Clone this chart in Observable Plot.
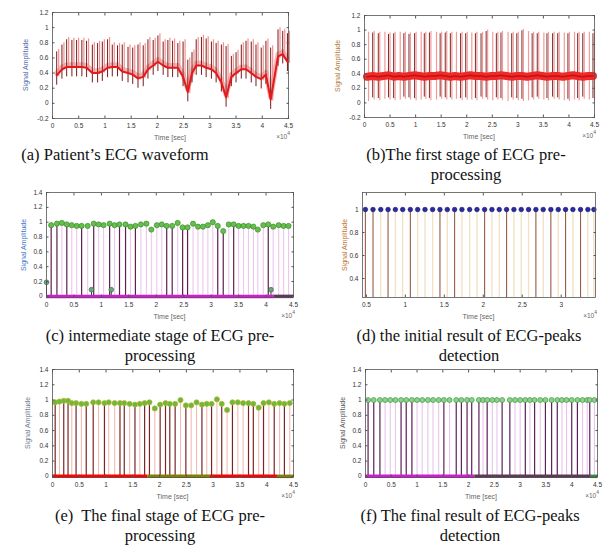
<!DOCTYPE html>
<html><head><meta charset="utf-8">
<script src="https://cdn.jsdelivr.net/npm/d3@7"></script>
<script src="https://cdn.jsdelivr.net/npm/@observablehq/plot@0.6"></script>
<style>
body{margin:0;background:#fff;}
#fig{position:relative;width:608px;height:548px;overflow:hidden;background:#fff;font-family:"Liberation Sans",Arial,sans-serif;}
.panel{position:absolute;}
.panel svg{overflow:visible;}
.cap{position:absolute;width:320px;font-family:"Liberation Serif","Times New Roman",serif;font-size:16.5px;line-height:20px;text-align:center;color:#111;white-space:nowrap;}
.xl{position:absolute;font-size:7px;color:#666;white-space:nowrap;transform:translate(-50%,-50%);}
.xe{position:absolute;font-size:6.5px;color:#666;white-space:nowrap;transform:translate(-100%,-50%);}
.yl{position:absolute;font-size:7px;white-space:nowrap;transform:translate(-50%,-50%) rotate(-90deg);}
</style></head><body><div id="fig"></div><script>
// ---------- shared ticks ----------
const xTicksFull = [0, 0.5, 1, 1.5, 2, 2.5, 3, 3.5, 4, 4.5];
const yTicksAB = [-0.2, 0, 0.2, 0.4, 0.6, 0.8, 1, 1.2];
const yTicksStem = [0, 0.2, 0.4, 0.6, 0.8, 1, 1.2, 1.4];
const xTicksD = [0.5, 1, 1.5, 2, 2.5, 3];
const yTicksD = [0.4, 0.6, 0.8, 1];

// ---------- (a) raw ECG: per-beat spike times, R-peak, baseline ----------
const aTime = [0.08,0.18,0.27,0.37,0.46,0.56,0.65,0.76,0.86,0.95,1.05,1.14,1.24,1.33,1.44,1.53,1.63,1.73,1.82,1.92,2.01,2.11,2.20,2.29,2.39,2.49,2.58,2.66,2.74,2.84,2.93,3.03,3.12,3.22,3.31,3.41,3.50,3.60,3.69,3.79,3.88,3.98,4.07,4.16,4.30,4.39,4.48];
const aPeak = [0.71,0.80,0.87,0.86,0.86,0.86,0.85,0.80,0.82,0.84,0.87,0.80,0.79,0.80,0.77,0.76,0.80,0.79,0.87,0.86,0.92,0.84,0.86,0.85,0.82,0.84,0.60,0.70,0.87,0.90,0.88,0.84,0.82,0.80,0.78,0.65,0.70,0.80,0.85,0.84,0.80,0.76,0.85,0.76,1.00,0.98,0.95];
const aBase = [0.37,0.45,0.48,0.48,0.48,0.48,0.47,0.40,0.40,0.42,0.47,0.48,0.48,0.42,0.40,0.38,0.33,0.35,0.45,0.50,0.55,0.50,0.47,0.47,0.47,0.35,0.15,0.40,0.50,0.50,0.47,0.45,0.40,0.28,0.08,0.35,0.40,0.45,0.45,0.40,0.35,0.32,0.38,0.05,0.62,0.65,0.55];

// ---------- (b) first stage ----------
const bTime = [0.05,0.16,0.27,0.37,0.47,0.57,0.67,0.77,0.87,0.98,1.08,1.17,1.27,1.38,1.48,1.58,1.68,1.77,1.88,1.98,2.07,2.17,2.28,2.38,2.48,2.58,2.67,2.78,2.88,2.98,3.08,3.18,3.28,3.38,3.48,3.57,3.68,3.78,3.88,3.98,4.08,4.17,4.27,4.37,4.47];
const bPeak = [0.97,0.98,0.97,0.97,0.96,0.97,0.97,0.97,0.96,0.97,0.97,0.97,0.98,0.97,0.97,0.98,0.97,0.97,0.97,0.97,0.96,0.97,0.97,1.00,0.97,0.97,0.98,0.97,0.97,0.97,1.01,0.98,0.97,0.97,0.96,0.97,0.97,0.97,0.96,0.97,0.97,0.97,0.97,0.97,0.97];
const bTrough = [0.02,0.04,0.03,0.05,0.04,0.03,0.04,0.05,0.04,0.03,0.04,0.05,0.03,0.04,0.05,0.04,0.04,0.05,0.03,0.04,0.04,0.03,0.05,0.04,0.03,0.04,0.03,0.02,0.04,0.03,0.02,0.03,0.04,0.05,0.04,0.03,0.05,0.04,0.03,0.02,0.04,0.03,0.05,0.04,0.03];
const bBase = [0.36,0.37,0.36,0.37,0.38,0.36,0.37,0.36,0.37,0.38,0.37,0.36,0.37,0.37,0.38,0.37,0.36,0.37,0.36,0.37,0.38,0.37,0.37,0.36,0.37,0.37,0.38,0.37,0.36,0.37,0.37,0.36,0.37,0.38,0.37,0.36,0.37,0.37,0.36,0.37,0.38,0.37,0.36,0.37,0.37];
const bDark = [0,1,1,0,1,1,0,1,1,1,0,1,1,0,1,1,1,0,1,1,0,1,1,1,0,1,1,0,1,1,1,0,1,1,0,1,1,1,0,1,0,1,1,0,1];

// ---------- (c) intermediate stage ----------
const cTime = [0.085,0.19,0.28,0.37,0.46,0.55,0.64,0.75,0.86,0.95,1.04,1.15,1.24,1.33,1.44,1.53,1.62,1.72,1.82,1.91,2.01,2.10,2.19,2.29,2.39,2.48,2.57,2.67,2.76,2.85,2.94,3.03,3.12,3.22,3.32,3.41,3.50,3.59,3.68,3.77,3.85,3.95,4.04,4.13,4.23,4.32,4.41];
const cVal = [0.96,0.98,0.99,0.97,0.96,0.95,0.95,0.95,0.98,0.97,0.96,0.98,0.96,0.97,0.97,0.94,0.95,0.97,0.98,0.90,0.96,0.97,0.95,0.95,0.99,0.93,0.93,0.98,0.94,0.94,0.96,1.00,0.95,0.88,0.97,0.97,0.95,0.95,0.95,0.94,0.90,0.96,0.97,0.94,0.96,0.95,0.95];
const cDark = [1,1,0,1,0,0,1,0,1,0,0,1,0,1,1,0,1,0,0,0,0,0,1,1,0,1,1,0,0,0,0,0,1,1,0,1,0,0,0,0,0,0,1,0,0,0,0];
const cExtraTime = [0.0, 0.82, 1.18, 4.09];
const cExtraVal = [0.19, 0.09, 0.09, 0.09];
const cSegFrom = [0, 4.15];
const cSegTo = [4.15, 4.5];
const cSegKind = ["zero", "zero-late"];

// ---------- (d) initial peaks ----------
const dTime = [0.487,0.585,0.684,0.778,0.872,0.966,1.064,1.158,1.252,1.350,1.444,1.538,1.632,1.726,1.825,1.919,2.017,2.111,2.205,2.299,2.393,2.487,2.581,2.675,2.769,2.867,2.962,3.056,3.150,3.248,3.342,3.419];
const dDark = [1,1,0,1,0,0,1,0,0,0,1,0,1,0,0,0,1,0,0,1,0,0,0,1,0,1,0,1,0,1,0,0];
const dYMin = 0.235;

// ---------- (e) final stage ----------
const eTime = [0.05,0.13,0.21,0.29,0.36,0.44,0.54,0.63,0.76,0.86,0.97,1.05,1.16,1.26,1.34,1.44,1.54,1.63,1.72,1.81,1.91,2.01,2.11,2.19,2.29,2.39,2.49,2.59,2.69,2.79,2.88,2.97,3.07,3.16,3.26,3.36,3.46,3.56,3.66,3.75,3.85,3.94,4.04,4.14,4.24,4.33,4.43];
const eVal = [0.97,0.98,0.99,0.99,0.96,0.96,0.95,0.95,0.97,0.97,0.96,0.97,0.96,0.96,0.96,0.95,0.94,0.95,0.96,0.97,0.89,0.94,0.96,0.95,0.95,1.00,0.93,0.93,0.97,0.94,0.95,0.95,1.01,0.95,0.87,0.97,0.97,0.96,0.96,0.95,0.90,0.96,0.97,0.95,0.96,0.95,0.96];
const eDark = [1,0,1,1,0,1,0,1,1,0,1,0,0,1,1,0,1,0,1,1,0,1,1,1,1,0,1,0,0,1,0,1,0,1,0,1,0,0,1,1,0,1,0,1,0,1,0];
const eSegFrom = [0, 1.78, 2.95, 4.2];
const eSegTo = [1.78, 2.95, 4.2, 4.5];
const eSegKind = ["red", "olive", "red", "olive"];

// ---------- (f) final peaks ----------
const fTime = [0.05,0.16,0.28,0.38,0.48,0.58,0.69,0.79,0.90,1.00,1.10,1.21,1.31,1.42,1.52,1.63,1.76,1.86,1.97,2.06,2.20,2.28,2.36,2.46,2.55,2.65,2.80,2.90,3.00,3.10,3.19,3.28,3.39,3.49,3.61,3.72,3.81,3.90,4.00,4.11,4.21,4.30,4.35,4.44];
const fDark = [1,1,1,0,0,0,1,1,1,0,0,0,0,0,1,0,1,1,1,1,1,0,1,0,0,1,1,0,0,1,0,1,0,1,1,1,0,0,1,1,0,0,1,0];
const fVal = 1;
const fSegFrom = [0, 2.12, 4.38];
const fSegTo = [2.12, 4.38, 4.5];
const fSegKind = ["magenta", "dark", "green"];

// ---------- helpers ----------
const fig = document.getElementById("fig");
function addDiv(cls, html, left, top, color) {
  const d = document.createElement("div");
  d.className = cls; d.innerHTML = html;
  d.style.left = left + "px"; d.style.top = top + "px";
  if (color) d.style.color = color;
  fig.appendChild(d); return d;
}
function panel(cfg) {
  const {left, top, fx0, fx1, fy0, fy1, xDomain, yDomain, xTicks, yTicks, marks, color, yColor, yLabelX} = cfg;
  const W = 304, H = fy1 - top + 30;
  const svg = Plot.plot({
    width: W, height: H,
    marginLeft: fx0 - left, marginRight: left + W - fx1,
    marginTop: fy0 - top, marginBottom: H - (fy1 - top),
    x: {domain: xDomain, label: null},
    y: {domain: yDomain, label: null},
    ...(color ? {color} : {}),
    style: {background: "transparent", fontFamily: "'Liberation Sans', Arial, sans-serif"},
    marks: [
      ...marks,
      Plot.frame({stroke: "#555", strokeWidth: 0.8}),
      Plot.axisX(xTicks, {tickSize: 0, tickPadding: 5, fontSize: 6.5, fill: "#333", tickFormat: d => String(d)}),
      Plot.axisX(xTicks, {tickSize: -2.5, tickFormat: () => "", stroke: "#555"}),
      Plot.axisX(xTicks, {anchor: "top", tickSize: -2.5, tickFormat: () => "", stroke: "#555"}),
      Plot.axisY(yTicks, {tickSize: 0, tickPadding: 4, fontSize: 6.5, fill: "#333", tickFormat: d => String(d)}),
      Plot.axisY(yTicks, {tickSize: -2.5, tickFormat: () => "", stroke: "#555"}),
      Plot.axisY(yTicks, {anchor: "right", tickSize: -2.5, tickFormat: () => "", stroke: "#555"})
    ]
  });
  const wrap = document.createElement("div");
  wrap.className = "panel"; wrap.style.left = left + "px"; wrap.style.top = top + "px";
  wrap.appendChild(svg); fig.appendChild(wrap);
  addDiv("xl", "Time [sec]", (fx0 + fx1) / 2, fy1 + 19);
  addDiv("xe", "\u00d710<sup style='font-size:5px'>4</sup>", fx1 + 2, fy1 + 17);
  addDiv("yl", "Signal Amplitude", yLabelX, (fy0 + fy1) / 2, yColor);
}

// (a)
const aBeats = aTime.map((t, i) => ({t, peak: aPeak[i], base: aBase[i]}));
panel({left: 0, top: 0, fx0: 52, fx1: 288, fy0: 12, fy1: 118,
  xDomain: [0, 4.5], yDomain: [-0.2, 1.2], xTicks: xTicksFull, yTicks: yTicksAB,
  yColor: "#4a6aa8", yLabelX: 25,
  marks: [
    Plot.line(aBeats, {x: "t", y: d => d.base + 0.03, stroke: "#f7b7b7", strokeWidth: 5, curve: "linear"}),
    Plot.ruleX(aBeats, {x: "t", y1: d => d.base - 0.02, y2: "peak", stroke: "#f29090", strokeWidth: 1.2, dx: 2}),
    Plot.ruleX(aBeats, {x: "t", y1: d => d.base - 0.13, y2: d => d.peak - 0.03, stroke: "#7a1a1a", strokeWidth: 1}),
    Plot.line(aBeats, {x: "t", y: "base", stroke: "#e3191c", strokeWidth: 2, curve: "linear"})
  ]});

// (b)
const bBeats = bTime.map((t, i) => ({t, peak: bPeak[i], trough: bTrough[i], base: bBase[i], dark: bDark[i]}));
panel({left: 304, top: 0, fx0: 364, fx1: 594, fy0: 15, fy1: 117,
  xDomain: [0, 4.5], yDomain: [-0.2, 1.2], xTicks: xTicksFull, yTicks: yTicksAB,
  yColor: "#b07a3a", yLabelX: 337,
  marks: [
    Plot.ruleX(bBeats, {x: "t", y1: "trough", y2: "peak", stroke: "#f39a9a", strokeWidth: 1.2, dx: 1.5}),
    Plot.ruleX(bBeats.filter(d => d.dark), {x: "t", y1: d => d.trough + 0.03, y2: d => d.peak - 0.02, stroke: "#6b1515", strokeWidth: 0.9}),
    Plot.line(bBeats, {x: "t", y: "base", stroke: "#ee2a2a", strokeWidth: 8}),
    Plot.line(bBeats, {x: "t", y: "base", stroke: "#c41010", strokeWidth: 1.5})
  ]});

// (c)
const cBeats = cTime.map((t, i) => ({t, v: cVal[i], dark: cDark[i]}));
const cExtra = cExtraTime.map((t, i) => ({t, v: cExtraVal[i]}));
const cSeg = cSegFrom.map((f, i) => ({from: f, to: cSegTo[i], kind: cSegKind[i]}));
panel({left: 0, top: 180, fx0: 46, fx1: 293, fy0: 192, fy1: 297,
  xDomain: [0, 4.5], yDomain: [-0.015, 1.4], xTicks: xTicksFull, yTicks: yTicksStem,
  yColor: "#3f74c4", yLabelX: 23,
  color: {domain: ["zero", "zero-late"], range: ["#d21ad2", "#5a3a5a"]},
  marks: [
    Plot.ruleX(cBeats.filter(d => !d.dark), {x: "t", y1: 0, y2: "v", stroke: "#eec6ee", strokeWidth: 1.1}),
    Plot.ruleX(cBeats.filter(d => d.dark), {x: "t", y1: 0, y2: "v", stroke: "#5e1f4e", strokeWidth: 1.2}),
    Plot.ruleX(cExtra, {x: "t", y1: 0, y2: "v", stroke: "#3a3a3a", strokeWidth: 1}),
    Plot.ruleY(cSeg, {y: 0, x1: "from", x2: "to", stroke: "kind", strokeWidth: 3.5}),
    Plot.dot(cBeats, {x: "t", y: "v", r: 2.6, fill: "#63c04a", stroke: "#3b7f2e", strokeWidth: 0.6}),
    Plot.dot(cExtra, {x: "t", y: "v", r: 2.4, fill: "#6aa87a", stroke: "#2f5f3a", strokeWidth: 0.6})
  ]});

// (d)
const dBeats = dTime.map((t, i) => ({t, dark: dDark[i]}));
panel({left: 304, top: 180, fx0: 362, fx1: 595, fy0: 192, fy1: 297,
  xDomain: [0.45, 3.44], yDomain: [dYMin, 1.148], xTicks: xTicksD, yTicks: yTicksD,
  yColor: "#c0742e", yLabelX: 344,
  marks: [
    Plot.ruleX(dBeats.filter(d => !d.dark), {x: "t", y1: dYMin, y2: 1, stroke: "#f3dfc2", strokeWidth: 1.3}),
    Plot.ruleX(dBeats.filter(d => d.dark), {x: "t", y1: dYMin, y2: 1, stroke: "#9a5a44", strokeWidth: 1.1}),
    Plot.dot(dBeats, {x: "t", y: () => 1, r: 2.3, fill: "#2a2aa8", stroke: "#10105e", strokeWidth: 0.6})
  ]});

// (e)
const eBeats = eTime.map((t, i) => ({t, v: eVal[i], dark: eDark[i]}));
const eSeg = eSegFrom.map((f, i) => ({from: f, to: eSegTo[i], kind: eSegKind[i]}));
panel({left: 0, top: 360, fx0: 52, fx1: 293, fy0: 369, fy1: 477,
  xDomain: [0, 4.5], yDomain: [-0.015, 1.4], xTicks: xTicksFull, yTicks: yTicksStem,
  yColor: "#707c8c", yLabelX: 27,
  color: {domain: ["red", "olive"], range: ["#e8201c", "#a88a2a"]},
  marks: [
    Plot.ruleX(eBeats.filter(d => !d.dark), {x: "t", y1: 0, y2: "v", stroke: "#f3bcb4", strokeWidth: 1.1}),
    Plot.ruleX(eBeats.filter(d => d.dark), {x: "t", y1: 0, y2: "v", stroke: "#7b2424", strokeWidth: 1.2}),
    Plot.ruleY(eSeg, {y: 0, x1: "from", x2: "to", stroke: "kind", strokeWidth: 3.5}),
    Plot.dot(eBeats, {x: "t", y: "v", r: 2.6, fill: "#6cb83e", stroke: "#b8b82a", strokeWidth: 0.7})
  ]});

// (f)
const fBeats = fTime.map((t, i) => ({t, v: fVal, dark: fDark[i]}));
const fSeg = fSegFrom.map((f, i) => ({from: f, to: fSegTo[i], kind: fSegKind[i]}));
panel({left: 304, top: 360, fx0: 365, fx1: 597, fy0: 369, fy1: 477,
  xDomain: [0, 4.5], yDomain: [-0.015, 1.4], xTicks: xTicksFull, yTicks: yTicksStem,
  yColor: "#555", yLabelX: 342,
  color: {domain: ["magenta", "dark", "green"], range: ["#d21ad2", "#5a3a55", "#2f8a3a"]},
  marks: [
    Plot.ruleX(fBeats.filter(d => !d.dark), {x: "t", y1: 0, y2: "v", stroke: "#e8c4ee", strokeWidth: 1.1}),
    Plot.ruleX(fBeats.filter(d => d.dark), {x: "t", y1: 0, y2: "v", stroke: "#5b1f5b", strokeWidth: 1.2}),
    Plot.ruleY(fSeg, {y: 0, x1: "from", x2: "to", stroke: "kind", strokeWidth: 3.5}),
    Plot.dot(fBeats, {x: "t", y: "v", r: 2.5, fill: "#8fd08a", stroke: "#3f9a45", strokeWidth: 0.7})
  ]});

// ---------- captions ----------
addDiv("cap", "(a) Patient\u2019s ECG waveform", 115 - 160, 145);
addDiv("cap", "(b)The first stage of ECG pre-<br>processing", 466 - 160, 145);
addDiv("cap", "(c) intermediate stage of ECG pre-<br>processing", 160 - 160, 326);
addDiv("cap", "(d) the initial result of ECG-peaks<br>detection", 469 - 160, 326);
addDiv("cap", "(e)&nbsp; The final stage of ECG pre-<br>processing", 160 - 160, 506);
addDiv("cap", "(f) The final result of ECG-peaks<br>detection", 470 - 160, 506);
</script></body></html>
